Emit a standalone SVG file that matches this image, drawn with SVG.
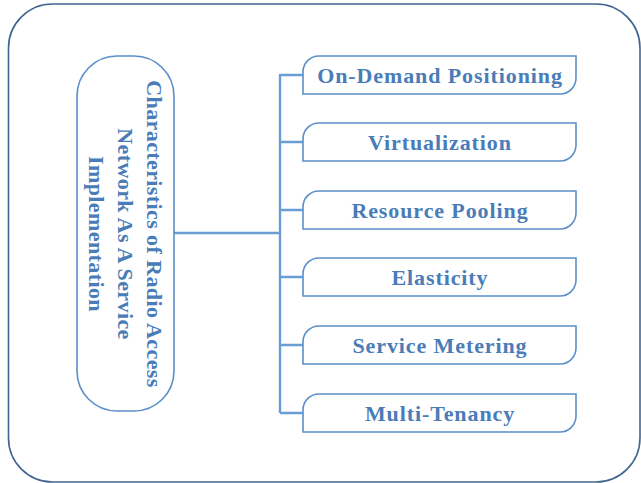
<svg xmlns="http://www.w3.org/2000/svg" width="641" height="483" viewBox="0 0 641 483">
<style>
.frame{fill:none;stroke:#3f6590;stroke-width:1.6}
.node{fill:#fff;stroke:#5b8fc9;stroke-width:1.6}
.conn{fill:none;stroke:#6a9dd3;stroke-width:2.4}
.lbl{font-family:"Liberation Serif","Times New Roman",serif;font-weight:bold;font-size:22px;fill:#4a7cb8;letter-spacing:0.9px;text-anchor:middle}
.vlbl{font-family:"Liberation Serif","Times New Roman",serif;font-weight:bold;font-size:22px;fill:#4a7cb8;letter-spacing:0.4px;text-anchor:middle}
</style>
<rect class="frame" x="8.5" y="4" width="631.5" height="478" rx="44" ry="44"/>
<g id="connectors">
<path class="conn" d="M174,233 H280 M280,74 V413 M280,75 H303 M280,142 H303 M280,210 H303 M280,277 H303 M280,345 H303 M280,413 H303"/>
</g>
<g id="main">
<rect class="node" x="77" y="56" width="97" height="355" rx="40" ry="40"/>
<text class="vlbl" transform="rotate(90)"><tspan x="234" y="-147">Characteristics of Radio Access</tspan><tspan x="234" y="-118">Network As A Service</tspan><tspan x="234" y="-89">Implementation</tspan></text>
</g>
<g id="n1"><path class="node" d="M303,94 V72 A16,16 0 0 1 319,56 H576 V78 A16,16 0 0 1 560,94 Z"/><text class="lbl" x="440" y="83">On-Demand Positioning</text></g>
<g id="n2"><path class="node" d="M303,161 V139 A16,16 0 0 1 319,123 H576 V145 A16,16 0 0 1 560,161 Z"/><text class="lbl" x="440" y="150">Virtualization</text></g>
<g id="n3"><path class="node" d="M303,229 V207 A16,16 0 0 1 319,191 H576 V213 A16,16 0 0 1 560,229 Z"/><text class="lbl" x="440" y="218">Resource Pooling</text></g>
<g id="n4"><path class="node" d="M303,296 V274 A16,16 0 0 1 319,258 H576 V280 A16,16 0 0 1 560,296 Z"/><text class="lbl" x="440" y="285">Elasticity</text></g>
<g id="n5"><path class="node" d="M303,364 V342 A16,16 0 0 1 319,326 H576 V348 A16,16 0 0 1 560,364 Z"/><text class="lbl" x="440" y="353">Service Metering</text></g>
<g id="n6"><path class="node" d="M303,432 V410 A16,16 0 0 1 319,394 H576 V416 A16,16 0 0 1 560,432 Z"/><text class="lbl" x="440" y="421">Multi-Tenancy</text></g>
</svg>
